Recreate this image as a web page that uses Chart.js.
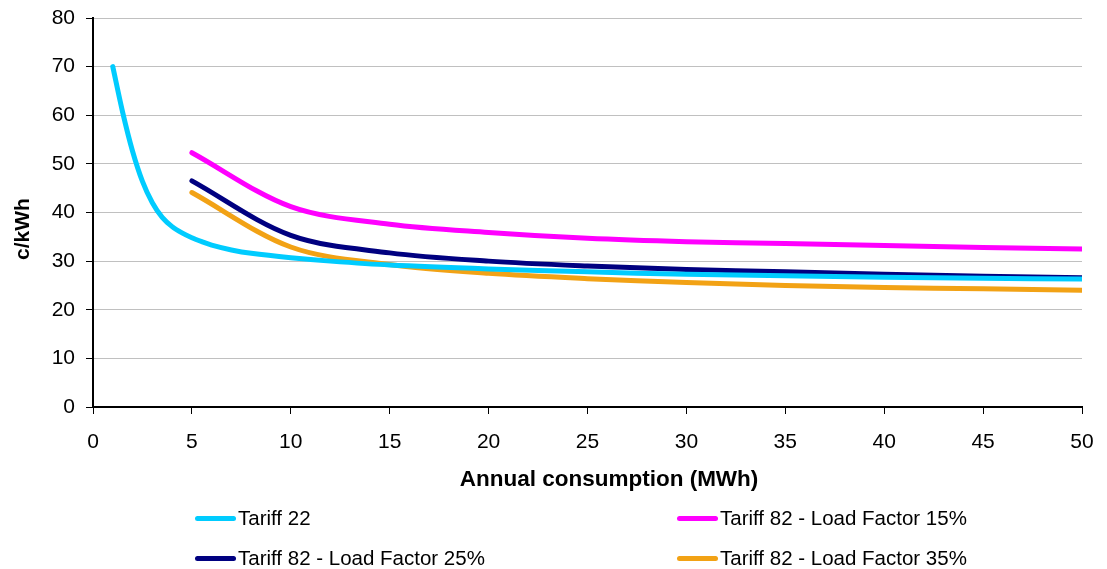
<!DOCTYPE html>
<html>
<head>
<meta charset="utf-8">
<script src="https://cdn.jsdelivr.net/npm/chart.js@4"></script>
<style>
  body { margin:0; background:#fff; font-family:"Liberation Sans", Arial, sans-serif; }
  #wrap { position:relative; width:1107px; height:569px; }
  #overlay { position:absolute; left:0; top:0; width:1107px; height:569px; pointer-events:none; }
  .item { position:absolute; font-size:20.5px; line-height:24px; color:#000; white-space:nowrap; display:flex; align-items:center; }
  .sw { display:inline-block; width:41px; height:5px; border-radius:3px; margin-right:2px; }
  .axt { position:absolute; font-weight:bold; color:#000; white-space:nowrap; line-height:1; }
  #xTitle { font-size:22.5px; left:609px; top:479px; transform:translate(-50%,-50%); }
  #yTitle { font-size:21px; left:21px; top:229px; transform:translate(-50%,-50%) rotate(-90deg); }
</style>
</head>
<body>
<div id="wrap">
  <canvas id="chart" width="1107" height="569"></canvas>
  <div id="overlay">
    <div class="axt" id="xTitle">Annual consumption (MWh)</div>
    <div class="axt" id="yTitle">c/kWh</div>
  </div>
</div>
<script>
// data
const seriesNames = ['Tariff 22','Tariff 82 - Load Factor 15%','Tariff 82 - Load Factor 25%','Tariff 82 - Load Factor 35%'];
const seriesColors = ['#00CCFF','#FF00FF','#000080','#F2A215'];

const t22X = [1,1.5,2,2.5,3,3.5,4,4.5,5,5.5,6,7,8,10,12,15,20,25,30,35,40,45,50];
const t22Y = [70,60.6,52.6,46.4,42.0,39.0,37.1,35.8,34.8,34.0,33.3,32.3,31.6,30.7,30.0,29.2,28.4,27.8,27.3,27.0,26.7,26.5,26.3];

const t82X = [5,10,15,20,25,30,35,40,45,50];
const lf15Y = [52.3,41.2,37.6,35.9,34.7,34.0,33.6,33.2,32.8,32.5];
const lf25Y = [46.5,35.3,31.7,30.0,29.0,28.3,27.8,27.3,26.9,26.6];
const lf35Y = [44.1,32.9,29.3,27.5,26.4,25.6,25.0,24.6,24.3,24.0];

function pts(xs, ys){
    return xs.map((x,i)=>({x:x, y:ys[i]}));
}

const allSeries = [pts(t22X,t22Y), pts(t82X,lf15Y), pts(t82X,lf25Y), pts(t82X,lf35Y)];

const tickFont = {family:'"Liberation Sans", Arial, sans-serif', size:21};

const ctx = document.getElementById('chart');
new Chart(ctx,{
    type:'line',
    data:{
        datasets: allSeries.map((d,i)=>({
            label: seriesNames[i],
            data: d,
            borderColor: seriesColors[i],
            backgroundColor: seriesColors[i],
            borderWidth: 5,
            pointRadius: 0,
            tension: 0.33,
            borderCapStyle: 'round',
            fill: false
        }))
    },
    options:{
        responsive:false,
        animation:false,
        layout:{ padding:{ left:0, top:18, right:25, bottom:72 } },
        plugins:{ legend:{display:false}, tooltip:{enabled:false} },
        scales:{
            x:{
                type:'linear',
                min:0, max:50,
                ticks:{ stepSize:5, color:'#000', font:tickFont, padding:16, maxRotation:0 },
                grid:{ drawOnChartArea:false, tickLength:7, tickColor:'#000', tickWidth:1 },
                border:{ color:'#000', width:2 },
                afterFit:(s)=>{ s.height = 90; s.paddingLeft = 0; s.paddingRight = 0; }
            },
            y:{
                min:0, max:80,
                ticks:{ stepSize:10, color:'#000', font:tickFont, padding:11 },
                grid:{ color:'#c0c0c0', lineWidth:1, tickLength:7, tickColor:'#000' },
                border:{ color:'#000', width:2 },
                afterFit:(s)=>{ s.width = 93; s.paddingTop = 0; s.paddingBottom = 0; }
            }
        }
    }
});

// legend as two columns under the chart
const legendPos = [[195,518],[677,518],[195,558],[677,558]];
const overlay = document.getElementById('overlay');
seriesNames.forEach((name,i)=>{
    const it = document.createElement('div');
    it.className = 'item';
    it.style.left = legendPos[i][0] + 'px';
    it.style.top = (legendPos[i][1] - 12) + 'px';
    it.innerHTML = '<span class="sw" style="background:' + seriesColors[i] + '"></span><span>' + name + '</span>';
    overlay.appendChild(it);
});
</script>
</body>
</html>
